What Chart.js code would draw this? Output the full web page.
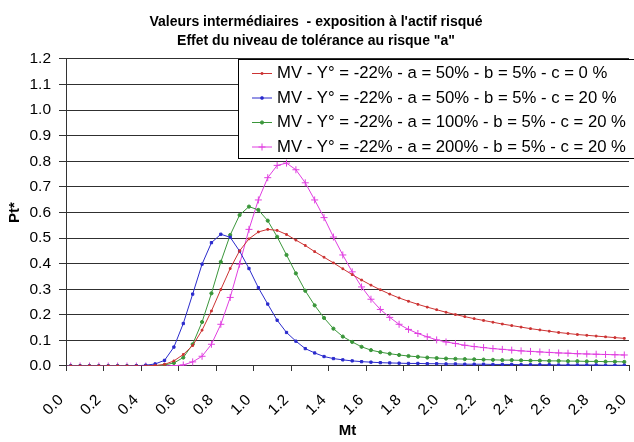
<!DOCTYPE html>
<html><head><meta charset="utf-8">
<script src="https://cdn.jsdelivr.net/npm/chart.js@4/dist/chart.umd.min.js"></script>
<style>html,body{margin:0;padding:0;background:#fff;}#wrap{width:634px;height:442px;}</style>
</head><body><div id="wrap"><canvas id="c" width="634" height="442"></canvas></div>
<script>
// Categories (Mt)
const mtCategories = ["0.05","0.10","0.15","0.20","0.25","0.30","0.35","0.40","0.45","0.50",
  "0.55","0.60","0.65","0.70","0.75","0.80","0.85","0.90","0.95","1.00",
  "1.05","1.10","1.15","1.20","1.25","1.30","1.35","1.40","1.45","1.50",
  "1.55","1.60","1.65","1.70","1.75","1.80","1.85","1.90","1.95","2.00",
  "2.05","2.10","2.15","2.20","2.25","2.30","2.35","2.40","2.45","2.50",
  "2.55","2.60","2.65","2.70","2.75","2.80","2.85","2.90","2.95","3.00"];
const xTickLabels = ["0.0","0.2","0.4","0.6","0.8","1.0","1.2","1.4","1.6","1.8","2.0","2.2","2.4","2.6","2.8","3.0"];
const yTickLabels = ["0.0","0.1","0.2","0.3","0.4","0.5","0.6","0.7","0.8","0.9","1.0","1.1","1.2"];

const seriesLabels = [
  "MV - Y° = -22% - a = 50% - b = 5% - c = 0 %",
  "MV - Y° = -22% - a = 50% - b = 5% - c = 20 %",
  "MV - Y° = -22% - a = 100% - b = 5% - c = 20 %",
  "MV - Y° = -22% - a = 200% - b = 5% - c = 20 %"
];

const redA50C0 = [0,0,0,0,0,0,0,0,0,0.002,
  0.006,0.020,0.045,0.080,0.140,0.215,0.299,0.381,0.450,0.497,
  0.524,0.534,0.530,0.514,0.492,0.471,0.447,0.425,0.403,0.380,
  0.357,0.336,0.316,0.298,0.281,0.266,0.253,0.241,0.230,0.220,
  0.210,0.201,0.193,0.185,0.178,0.171,0.164,0.158,0.152,0.146,
  0.141,0.136,0.131,0.127,0.123,0.120,0.117,0.114,0.111,0.108];

const blueA50C20 = [0,0,0,0,0,0,0,0.001,0.003,0.008,
  0.022,0.074,0.166,0.281,0.398,0.482,0.515,0.503,0.449,0.381,
  0.306,0.242,0.179,0.131,0.097,0.068,0.051,0.037,0.029,0.024,
  0.020,0.017,0.015,0.013,0.012,0.011,0.010,0.010,0.009,0.009,
  0.008,0.008,0.007,0.007,0.007,0.006,0.006,0.006,0.005,0.005,
  0.005,0.005,0.004,0.004,0.004,0.004,0.004,0.003,0.003,0.003];

const greenA100C20 = [0,0,0,0,0,0,0,0,0,0.001,
  0.004,0.012,0.033,0.085,0.172,0.284,0.407,0.512,0.590,0.623,
  0.610,0.568,0.505,0.434,0.362,0.294,0.237,0.188,0.146,0.115,
  0.094,0.075,0.062,0.054,0.048,0.043,0.039,0.036,0.033,0.031,
  0.029,0.028,0.027,0.026,0.025,0.024,0.023,0.023,0.022,0.021,
  0.021,0.020,0.020,0.019,0.019,0.018,0.018,0.017,0.017,0.016];

const magentaA200C20 = [0,0,0,0,0,0,0,0,0,0,
  0,0.001,0.004,0.016,0.038,0.085,0.163,0.268,0.398,0.534,
  0.649,0.736,0.784,0.793,0.767,0.716,0.649,0.580,0.504,0.434,
  0.368,0.309,0.261,0.221,0.190,0.163,0.143,0.127,0.114,0.102,
  0.094,0.088,0.081,0.076,0.072,0.068,0.065,0.062,0.059,0.057,
  0.055,0.053,0.051,0.050,0.048,0.047,0.046,0.045,0.044,0.043];

const FONT = "'Liberation Sans', Arial, sans-serif";
Chart.defaults.font.family = FONT;
Chart.defaults.color = '#000';

const legendBox = {
  id: 'legendBox',
  afterDatasetsDraw(chart) {
    const {ctx, chartArea} = chart;
    const left = 238.5, top = Math.round(chartArea.top) + 0.5, bottom = 158.5, right = 700;
    ctx.save();
    ctx.fillStyle = '#fff';
    ctx.fillRect(left, top, right - left, bottom - top);
    ctx.strokeStyle = '#000';
    ctx.lineWidth = 1;
    ctx.strokeRect(left, top, right - left, bottom - top);
    ctx.font = "16.7px " + FONT;
    ctx.textBaseline = 'middle';
    ctx.textAlign = 'left';
    chart.data.datasets.forEach((ds, i) => {
      const y = top + 14 + i * 24.5;
      ctx.strokeStyle = ds.borderColor;
      ctx.lineWidth = 1;
      ctx.beginPath(); ctx.moveTo(252, y); ctx.lineTo(272, y); ctx.stroke();
      ctx.fillStyle = ds.pointBackgroundColor;
      ctx.strokeStyle = ds.pointBorderColor;
      Chart.helpers.drawPoint(ctx, {pointStyle: ds.pointStyle, radius: ds.pointRadius, borderWidth: 1, rotation: 0}, 262, y);
      ctx.fillStyle = '#000';
      ctx.fillText(ds.label, 277, y);
    });
    ctx.restore();
  }
};

function mkSet(label, data, color, style, radius) {
  return {
    label, data,
    borderColor: color, backgroundColor: color,
    pointBackgroundColor: color, pointBorderColor: color,
    pointStyle: style, pointRadius: radius, pointBorderWidth: 1,
    borderWidth: 1, tension: 0, fill: false, xAxisID: 'x', yAxisID: 'y'
  };
}

new Chart(document.getElementById('c'), {
  type: 'line',
  data: {
    labels: mtCategories,
    datasets: [
      mkSet(seriesLabels[0], redA50C0, '#cc3333', 'rect', 1.2),
      mkSet(seriesLabels[1], blueA50C20, '#2a2acc', 'rect', 1.6),
      mkSet(seriesLabels[2], greenA100C20, '#3a963a', 'circle', 1.6),
      mkSet(seriesLabels[3], magentaA200C20, '#e03ee0', 'cross', 3.5)
    ]
  },
  options: {
    responsive: false,
    animation: false,
    devicePixelRatio: 1,
    layout: {padding: {left: 0, right: 2, top: 0, bottom: 0}},
    plugins: {
      legend: {display: false},
      tooltip: {enabled: false},
      title: {
        display: true,
        text: ["Valeurs intermédiaires  - exposition à l'actif risqué", "Effet du niveau de tolérance au risque \"a\""],
        font: {size: 14, weight: 'bold', family: FONT, lineHeight: 1.32},
        color: '#000',
        padding: {top: 13, bottom: 9}
      }
    },
    scales: {
      x: {
        type: 'category',
        offset: true,
        display: false
      },
      xTicks: {
        type: 'linear',
        position: 'bottom',
        min: 0, max: 3.0,
        afterBuildTicks(scale) {
          scale.ticks = xTickLabels.map(t => ({value: parseFloat(t)}));
        },
        ticks: {
          autoSkip: false,
          maxRotation: 45, minRotation: 45,
          padding: 20,
          labelOffset: -5,
          font: {size: 15.5, family: FONT},
          color: '#000',
          callback: (v, i) => xTickLabels[i]
        },
        grid: {display: true, drawOnChartArea: false, drawTicks: true, tickLength: 5, tickColor: '#333'},
        border: {display: true, color: '#333', width: 1},
        title: {display: true, text: 'Mt', font: {size: 15, weight: 'bold', family: FONT}, color: '#000', padding: {top: 4, bottom: 2}},
        afterFit(scale) { scale.height = 76; scale.paddingRight = 0; scale.paddingLeft = 0; }
      },
      y: {
        type: 'linear',
        min: 0, max: 1.2,
        afterBuildTicks(scale) {
          scale.ticks = yTickLabels.map(t => ({value: parseFloat(t)}));
        },
        ticks: {
          padding: 8,
          font: {size: 15.5, family: FONT},
          color: '#000',
          callback: (v, i) => yTickLabels[i]
        },
        grid: {color: '#303030', lineWidth: 1, tickLength: 7, tickColor: '#333'},
        border: {display: true, color: '#333', width: 1},
        title: {display: true, text: 'Pt*', font: {size: 15, weight: 'bold', family: FONT}, color: '#000', padding: {top: 6, bottom: 4}},
        afterFit(scale) { scale.width = 66; }
      }
    }
  },
  plugins: [legendBox]
});
</script>
</body></html>
